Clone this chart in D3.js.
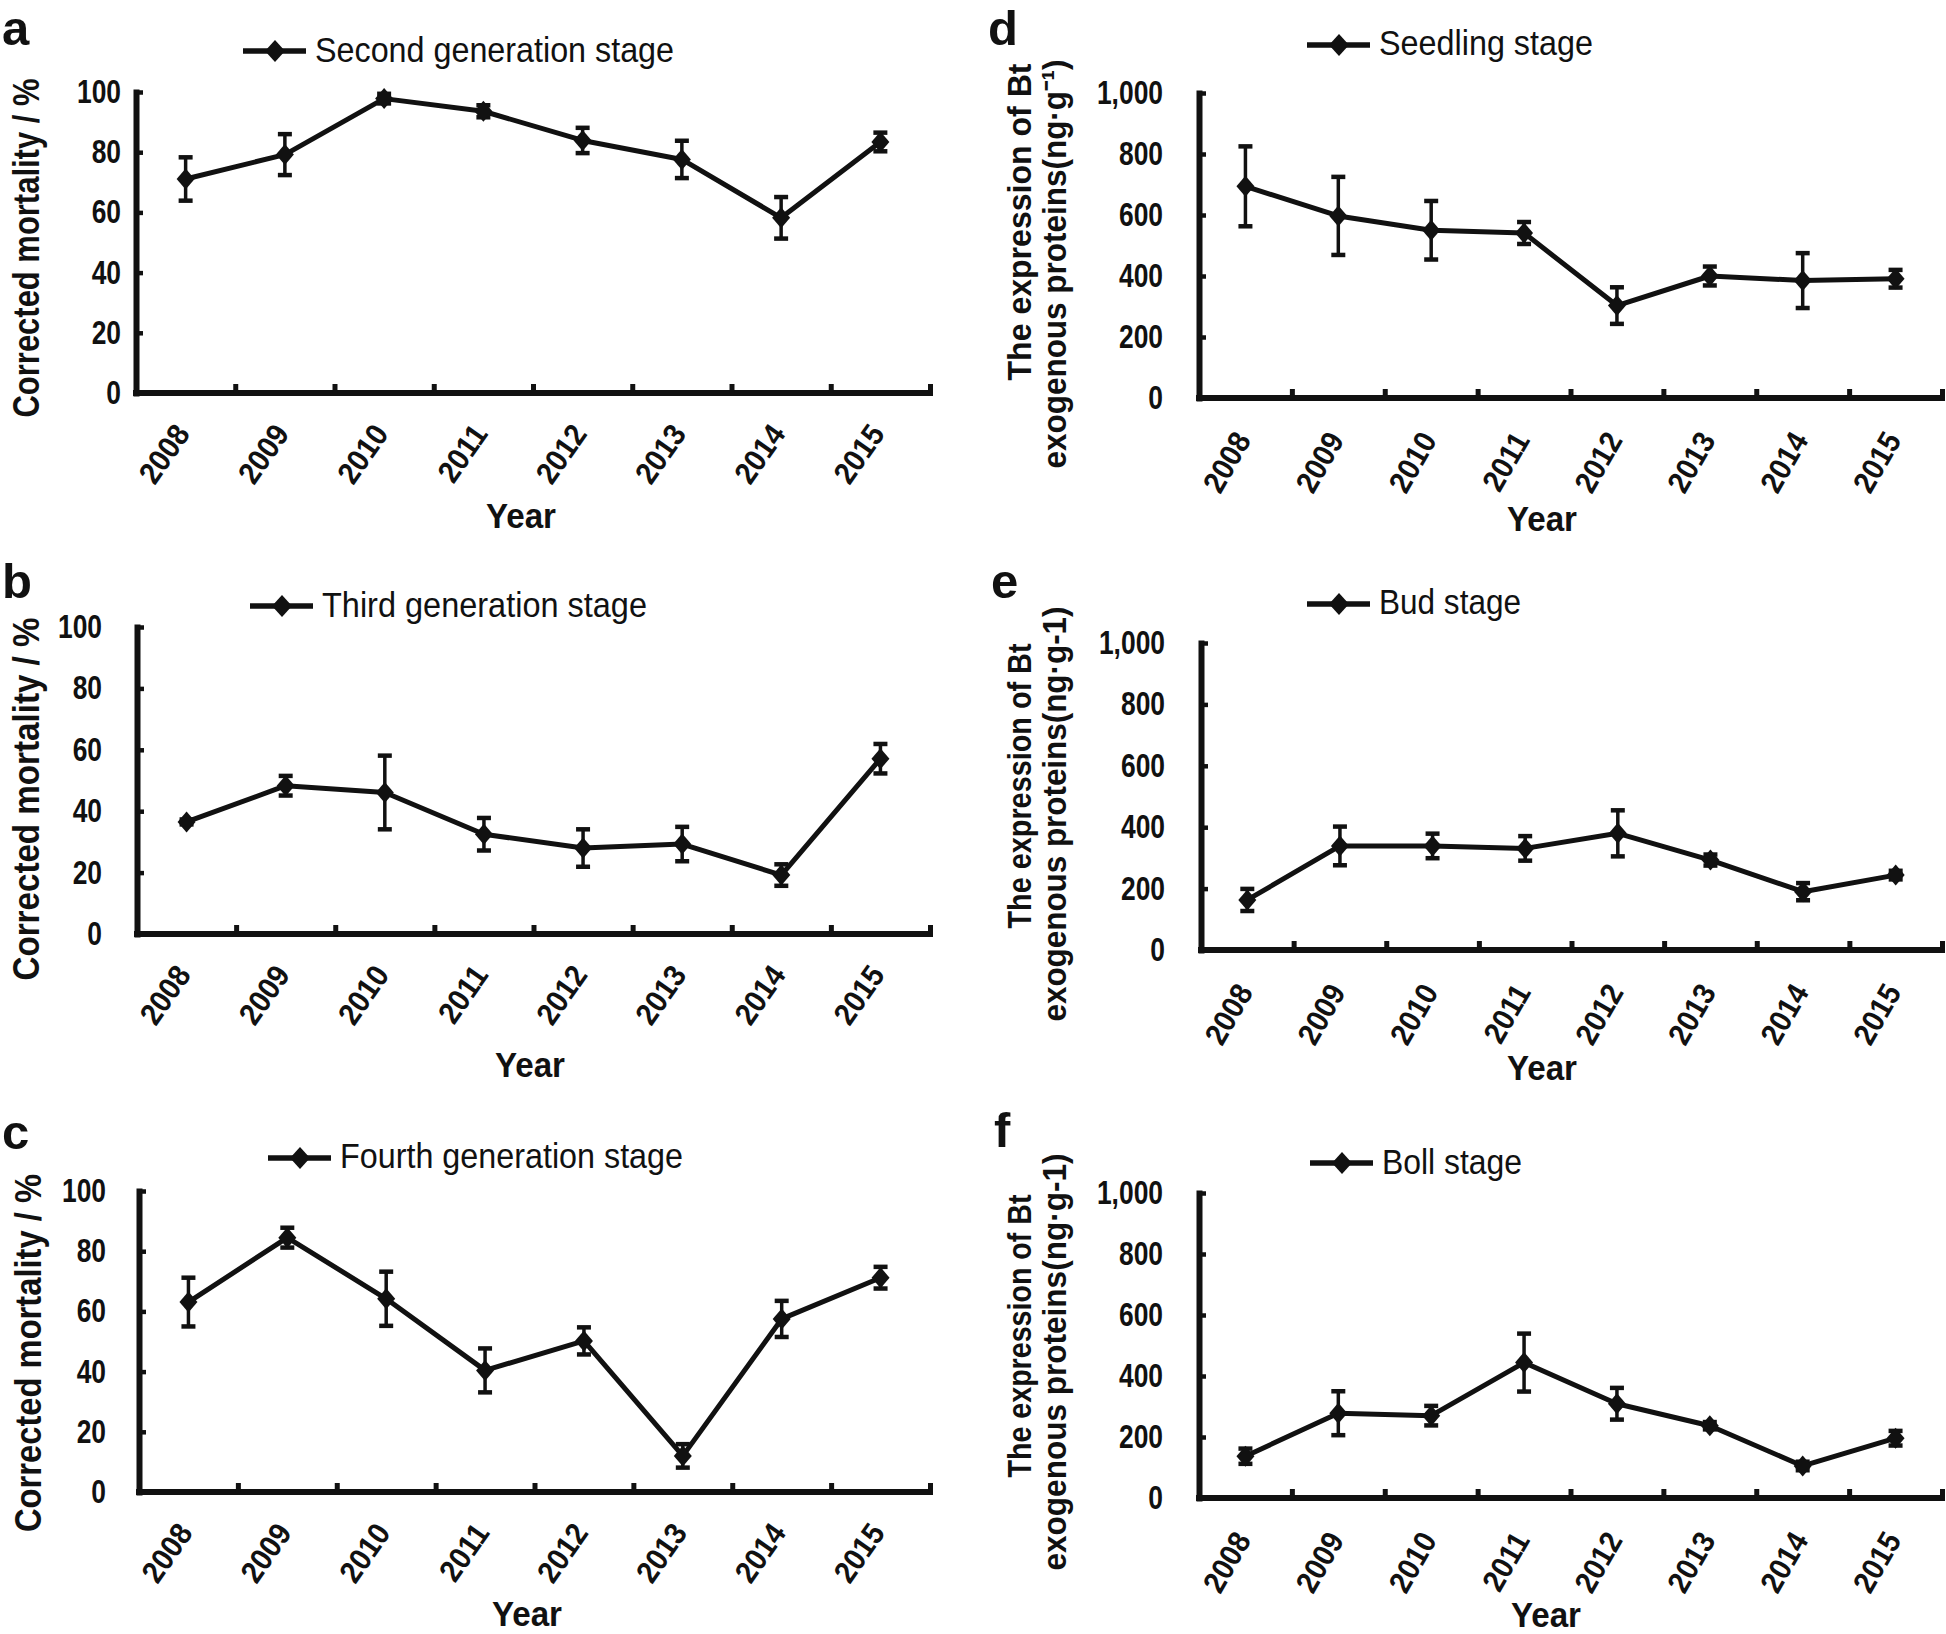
<!DOCTYPE html>
<html>
<head>
<meta charset="utf-8">
<script src="https://cdnjs.cloudflare.com/ajax/libs/d3/7.8.5/d3.min.js"></script>
<style>
  html, body { margin: 0; padding: 0; background: #fff; }
  svg { display: block; }
  text { font-family: "Liberation Sans", Arial, sans-serif; fill: #111; }
</style>
</head>
<body>
<svg id="chart" width="1946" height="1634"></svg>
<script>
// ---------------- DATA ----------------
const years = ["2008", "2009", "2010", "2011", "2012", "2013", "2014", "2015"];

const mortalityTicks = [0, 20, 40, 60, 80, 100];
const expressionTicks = [0, 200, 400, 600, 800, 1000];

const secondGeneration    = [71.1, 79.2, 97.8, 93.6, 83.9, 77.6, 58.2, 83.4];
const secondGenerationErr = [7.2, 6.8, 1.6, 2.0, 4.2, 6.2, 6.9, 3.1];

const thirdGeneration     = [36.5, 48.3, 46.1, 32.5, 28.0, 29.3, 19.2, 57.1];
const thirdGenerationErr  = [0.8, 3.2, 12.0, 5.3, 6.1, 5.6, 3.5, 4.8];

const fourthGeneration    = [63.1, 84.5, 64.2, 40.4, 50.2, 12.0, 57.5, 71.2];
const fourthGenerationErr = [8.1, 3.3, 9.0, 7.3, 4.5, 3.9, 6.0, 3.6];

const seedlingStage    = [694, 597, 550, 541, 303, 400, 385, 391];
const seedlingStageErr = [131, 128, 96, 36, 60, 31, 90, 29];

const budStage    = [163, 339, 339, 331, 380, 293, 190, 244];
const budStageErr = [36, 63, 40, 40, 75, 18, 28, 14];

const bollStage    = [137, 278, 270, 444, 309, 237, 105, 196];
const bollStageErr = [25, 72, 32, 95, 52, 12, 14, 24];

// ---------------- LAYOUT ----------------
const svg = d3.select("#chart");

const panels = [
  { letter: "a", lx: 2,   ly: 45,   x0: 136,  x1: 930,  yTop: 92,   yBot: 393,
    ticks: mortalityTicks, max: 100, values: secondGeneration, err: secondGenerationErr,
    legend: "Second generation stage", legX: 243, legY: 51, legTY: 62, legLen: 359,
    ylab: ["Corrected mortality / %"], ylabX: [39], ylabY: [248], ylabLen: [339],
    tickPad: 15, yearX: 521, yearY: 528, right: false },
  { letter: "b", lx: 2,   ly: 598,  x0: 137,  x1: 930,  yTop: 627,  yBot: 934,
    ticks: mortalityTicks, max: 100, values: thirdGeneration, err: thirdGenerationErr,
    legend: "Third generation stage", legX: 250, legY: 606, legTY: 617, legLen: 325,
    ylab: ["Corrected mortality / %"], ylabX: [39], ylabY: [799], ylabLen: [363],
    tickPad: 35, yearX: 530, yearY: 1077, right: false },
  { letter: "c", lx: 2,   ly: 1149, x0: 139,  x1: 930,  yTop: 1191, yBot: 1492,
    ticks: mortalityTicks, max: 100, values: fourthGeneration, err: fourthGenerationErr,
    legend: "Fourth generation stage", legX: 268, legY: 1158, legTY: 1168, legLen: 343,
    ylab: ["Corrected mortality / %"], ylabX: [41], ylabY: [1353], ylabLen: [358],
    tickPad: 33, yearX: 527, yearY: 1626, right: false },
  { letter: "d", lx: 988, ly: 45,   x0: 1199, x1: 1942, yTop: 93,   yBot: 398,
    ticks: expressionTicks, max: 1000, values: seedlingStage, err: seedlingStageErr,
    legend: "Seedling stage", legX: 1307, legY: 45, legTY: 55, legLen: 214,
    ylab: ["The expression of Bt", "exogenous proteins(ng\u00B7g\u207B\u00B9)"],
    ylabX: [1031, 1066], ylabY: [222, 264], ylabLen: [317, 409],
    tickPad: 36, yearX: 1542, yearY: 531, right: true },
  { letter: "e", lx: 991, ly: 598,  x0: 1201, x1: 1942, yTop: 643,  yBot: 950,
    ticks: expressionTicks, max: 1000, values: budStage, err: budStageErr,
    legend: "Bud stage", legX: 1307, legY: 604, legTY: 614, legLen: 142,
    ylab: ["The expression of Bt", "exogenous proteins(ng\u00B7g-1)"],
    ylabX: [1031, 1066], ylabY: [786, 814], ylabLen: [285, 415],
    tickPad: 36, yearX: 1542, yearY: 1080, right: true },
  { letter: "f", lx: 994, ly: 1147, x0: 1199, x1: 1942, yTop: 1193, yBot: 1498,
    ticks: expressionTicks, max: 1000, values: bollStage, err: bollStageErr,
    legend: "Boll stage", legX: 1310, legY: 1163, legTY: 1174, legLen: 140,
    ylab: ["The expression of Bt", "exogenous proteins(ng\u00B7g-1)"],
    ylabX: [1031, 1066], ylabY: [1336, 1362], ylabLen: [283, 417],
    tickPad: 36, yearX: 1546, yearY: 1627, right: true }
];

const INK = "#111";
const diamond = (w, h) => `M0,${-h}L${w},0L0,${h}L${-w},0Z`;

// squeeze a text horizontally (condensed look)
function condense(sel, factor) {
  sel.each(function () {
    const len = this.getComputedTextLength();
    d3.select(this).attr("textLength", len * factor).attr("lengthAdjust", "spacingAndGlyphs");
  });
}

panels.forEach(p => {
  const g = svg.append("g");

  const x = d3.scalePoint().domain(years).range([p.x0, p.x1]).padding(0.5);
  const xb = d3.scaleLinear().domain([0, years.length]).range([p.x0, p.x1]);
  const y = d3.scaleLinear().domain([0, p.max]).range([p.yBot, p.yTop]);

  // Y axis
  const yAxis = d3.axisLeft(y).tickValues(p.ticks)
    .tickFormat(p.right ? d3.format(",") : d3.format("d"))
    .tickSizeInner(-7).tickSizeOuter(0).tickPadding(p.tickPad);
  const ya = g.append("g").attr("transform", `translate(${p.x0},0)`).call(yAxis);
  ya.select(".domain").attr("stroke", INK).attr("stroke-width", 6).attr("stroke-linecap", "square");
  ya.selectAll(".tick line").attr("stroke", INK).attr("stroke-width", 4.5);
  const yt = ya.selectAll(".tick text").attr("font-size", 33).attr("font-weight", "bold")
    .attr("font-family", "'Liberation Sans', Arial, sans-serif").attr("fill", INK);
  condense(yt, 0.8);

  // X axis: labels at category centers
  const xAxis = d3.axisBottom(x).tickSize(0).tickSizeOuter(0);
  const xa = g.append("g").attr("transform", `translate(0,${p.yBot})`).call(xAxis);
  xa.select(".domain").attr("stroke", INK).attr("stroke-width", 6).attr("stroke-linecap", "square")
    .attr("d", `M${p.x0},0H${p.x1}`);
  const xt = xa.selectAll(".tick text")
    .attr("x", 0).attr("y", 0).attr("dy", 0)
    .attr("text-anchor", "end")
    .attr("font-size", 31).attr("font-weight", "bold")
    .attr("font-family", "'Liberation Sans', Arial, sans-serif")
    .attr("fill", INK)
    .attr("transform", p.right ? "translate(6,42) rotate(-60)" : "translate(5,41) rotate(-55)");
  condense(xt, 0.92);

  // X boundary ticks (inside, pointing up)
  const xbAxis = d3.axisBottom(xb).tickValues(d3.range(1, years.length + 1))
    .tickFormat("").tickSizeInner(-9).tickSizeOuter(0);
  const xba = g.append("g").attr("transform", `translate(0,${p.yBot})`).call(xbAxis);
  xba.select(".domain").remove();
  xba.selectAll(".tick line").attr("stroke", INK).attr("stroke-width", 5);

  // Data line
  const line = d3.line().x((d, i) => x(years[i])).y(d => y(d));
  g.append("path").datum(p.values).attr("d", line)
    .attr("fill", "none").attr("stroke", INK).attr("stroke-width", 5).attr("stroke-linejoin", "round");

  // Error bars
  const eb = g.append("g").selectAll("g").data(p.values).join("g")
    .attr("transform", (d, i) => `translate(${x(years[i])},0)`);
  eb.append("line")
    .attr("y1", (d, i) => y(d + p.err[i])).attr("y2", (d, i) => y(d - p.err[i]))
    .attr("stroke", INK).attr("stroke-width", 3.5);
  eb.append("line").attr("x1", -7).attr("x2", 7)
    .attr("y1", (d, i) => y(d + p.err[i])).attr("y2", (d, i) => y(d + p.err[i]))
    .attr("stroke", INK).attr("stroke-width", 4.5);
  eb.append("line").attr("x1", -7).attr("x2", 7)
    .attr("y1", (d, i) => y(d - p.err[i])).attr("y2", (d, i) => y(d - p.err[i]))
    .attr("stroke", INK).attr("stroke-width", 4.5);

  // Markers
  g.append("g").selectAll("path").data(p.values).join("path")
    .attr("d", diamond(9, 10.5))
    .attr("transform", (d, i) => `translate(${x(years[i])},${y(d)})`)
    .attr("fill", INK);

  // Legend
  const lg = g.append("g");
  lg.append("line").attr("x1", p.legX).attr("x2", p.legX + 63)
    .attr("y1", p.legY).attr("y2", p.legY).attr("stroke", INK).attr("stroke-width", 5.5);
  lg.append("path").attr("d", diamond(10, 11)).attr("transform", `translate(${p.legX + 32},${p.legY})`).attr("fill", INK);
  lg.append("text").attr("x", p.legX + 72).attr("y", p.legTY)
    .attr("font-size", 35).attr("textLength", p.legLen).attr("lengthAdjust", "spacingAndGlyphs")
    .text(p.legend);

  // Panel letter
  g.append("text").attr("x", p.lx).attr("y", p.ly).attr("font-size", 49).attr("font-weight", "bold").text(p.letter);

  // Y label(s)
  p.ylab.forEach((t, k) => {
    g.append("text")
      .attr("transform", `translate(${p.ylabX[k]},${p.ylabY[k]}) rotate(-90)`)
      .attr("text-anchor", "middle")
      .attr("font-size", p.right ? 33 : 37).attr("font-weight", "bold")
      .attr("textLength", p.ylabLen[k]).attr("lengthAdjust", "spacingAndGlyphs")
      .text(t);
  });

  // X label
  g.append("text").attr("x", p.yearX).attr("y", p.yearY).attr("text-anchor", "middle")
    .attr("font-size", 35).attr("font-weight", "bold")
    .attr("textLength", 70).attr("lengthAdjust", "spacingAndGlyphs").text("Year");
});
</script>
</body>
</html>
